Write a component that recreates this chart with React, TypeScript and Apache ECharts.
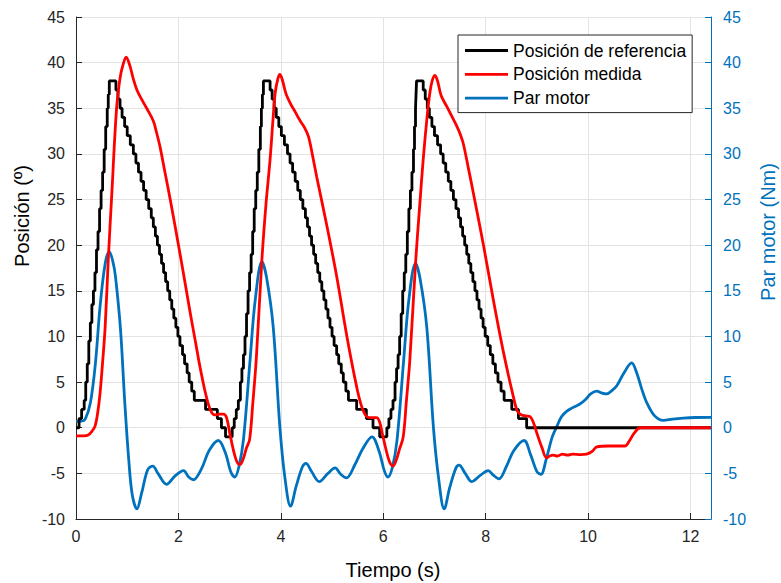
import React, { useEffect, useRef } from "react";
import * as echarts from "echarts";

// ---- Data (time in s, value) ----
const refCycle1: [number, number][] = [
  [0, 0], [0.06, 1], [0.11, 2], [0.16, 3], [0.19, 5], [0.22, 7], [0.25, 9.5], [0.28, 11.5], [0.31, 13.5],
  [0.34, 15], [0.37, 17], [0.4, 19.5], [0.43, 21.5], [0.46, 24], [0.49, 26], [0.52, 28], [0.55, 30.5],
  [0.58, 33], [0.61, 35], [0.63, 36.5], [0.65, 38],
  [0.78, 37], [0.82, 36], [0.86, 35], [0.9, 34], [0.95, 33], [1.0, 32], [1.06, 31], [1.12, 30], [1.17, 29],
  [1.22, 28], [1.27, 27], [1.32, 26], [1.37, 25], [1.42, 24], [1.47, 23], [1.51, 22], [1.55, 21], [1.59, 20],
  [1.63, 19], [1.67, 18], [1.71, 17], [1.75, 16], [1.79, 15], [1.83, 14], [1.87, 13], [1.91, 12], [1.95, 11],
  [1.99, 10], [2.03, 9], [2.08, 8], [2.12, 7], [2.17, 6], [2.21, 5], [2.26, 4], [2.31, 3], [2.53, 2],
  [2.76, 1], [2.84, 0], [2.92, -1],
];
const refCycle2: [number, number][] = [
  [3.05, 0], [3.09, 1], [3.13, 2], [3.17, 3], [3.21, 5], [3.24, 6.5], [3.27, 8], [3.3, 10], [3.33, 12.5],
  [3.36, 15], [3.39, 17], [3.42, 19], [3.45, 21.5], [3.48, 24], [3.51, 26], [3.54, 28], [3.57, 30.5],
  [3.6, 33], [3.62, 35], [3.64, 36.5], [3.66, 38],
  [3.79, 37], [3.83, 36], [3.87, 35], [3.91, 34], [3.96, 33], [4.01, 32], [4.07, 31], [4.13, 30], [4.18, 29],
  [4.23, 28], [4.28, 27], [4.33, 26], [4.38, 25], [4.43, 24], [4.48, 23], [4.52, 22], [4.56, 21], [4.6, 20],
  [4.64, 19], [4.68, 18], [4.72, 17], [4.76, 16], [4.8, 15], [4.84, 14], [4.88, 13], [4.92, 12], [4.96, 11],
  [5.0, 10], [5.04, 9], [5.09, 8], [5.13, 7], [5.18, 6], [5.22, 5], [5.27, 4], [5.32, 3], [5.48, 2],
  [5.67, 1], [5.8, 0], [5.93, -1],
];
const refCycle3: [number, number][] = [
  [6.07, 0], [6.11, 1], [6.15, 2], [6.19, 3], [6.23, 5], [6.26, 6.5], [6.29, 8], [6.32, 10], [6.35, 12.5],
  [6.38, 15], [6.41, 17], [6.44, 19], [6.47, 21.5], [6.5, 24], [6.53, 26], [6.56, 28], [6.59, 30.5],
  [6.61, 33], [6.63, 35], [6.64, 36.5], [6.65, 38],
  [6.78, 37], [6.82, 36], [6.86, 35], [6.9, 34], [6.95, 33], [7.0, 32], [7.06, 31], [7.12, 30], [7.17, 29],
  [7.22, 28], [7.27, 27], [7.32, 26], [7.37, 25], [7.42, 24], [7.47, 23], [7.51, 22], [7.55, 21], [7.59, 20],
  [7.63, 19], [7.67, 18], [7.71, 17], [7.75, 16], [7.79, 15], [7.83, 14], [7.87, 13], [7.91, 12], [7.95, 11],
  [7.99, 10], [8.04, 9], [8.09, 8], [8.14, 7], [8.19, 6], [8.24, 5], [8.3, 4], [8.36, 3], [8.51, 2],
  [8.64, 1], [8.8, 0], [12.4, 0],
];

const measCycle1: [number, number][] = [
  [0, -0.9], [0.15, -0.9], [0.24, -0.8], [0.31, -0.4], [0.37, 0.15], [0.42, 1.5], [0.47, 3.8], [0.52, 7.2],
  [0.57, 11.1], [0.63, 18.4], [0.7, 25.7], [0.79, 34.8], [0.86, 38.3], [0.92, 39.8], [0.98, 40.6],
  [1.05, 39.7], [1.12, 38.2], [1.19, 37.0], [1.28, 36.0], [1.38, 35.0], [1.51, 33.6], [1.57, 32.4],
  [1.64, 30.8], [1.74, 27.9], [1.84, 25.0], [2.03, 19.1], [2.23, 12.6], [2.33, 9.5], [2.42, 6.7],
  [2.52, 4.0], [2.62, 2.0], [2.71, 1.4], [2.8, 1.5], [2.88, 1.5], [2.94, 1.1], [3.01, -0.8], [3.08, -2.6],
  [3.14, -3.7], [3.2, -4.05], [3.26, -3.5], [3.33, -2.2],
];
const measCycle2: [number, number][] = [
  [3.39, -1.3], [3.45, 2.5], [3.52, 7.5], [3.63, 18.4], [3.71, 24.5], [3.79, 29.4], [3.85, 34.0],
  [3.89, 36.7], [3.94, 38.2], [3.98, 38.7], [4.03, 38.1], [4.1, 36.6], [4.18, 35.6], [4.28, 34.6],
  [4.38, 33.6], [4.46, 32.9], [4.54, 31.9], [4.62, 29.8], [4.7, 27.5], [4.9, 22.1], [5.09, 16.6],
  [5.29, 10.0], [5.48, 4.5], [5.58, 2.3], [5.68, 1.2], [5.78, 1.1], [5.87, 1.1], [5.93, 0.6], [5.98, -0.6],
  [6.05, -2.3], [6.12, -3.7], [6.19, -4.2], [6.25, -3.6], [6.32, -2.3],
];
const measCycle3: [number, number][] = [
  [6.39, -1.0], [6.45, 2.8], [6.52, 7.5], [6.63, 18.0], [6.71, 24.2], [6.78, 29.4], [6.86, 34.3],
  [6.91, 36.7], [6.96, 38.1], [7.01, 38.6], [7.06, 38.0], [7.13, 36.4], [7.24, 35.2], [7.34, 34.1],
  [7.44, 33.0], [7.5, 32.2], [7.56, 31.2], [7.66, 28.5], [7.76, 25.7], [7.96, 19.9], [8.15, 14.0],
  [8.35, 8.2], [8.54, 3.4], [8.62, 1.8], [8.7, 1.4], [8.78, 1.3], [8.87, 1.2], [8.93, 0.6], [9.0, -0.6],
  [9.1, -2.2], [9.19, -3.3], [9.25, -3.1], [9.32, -3.0], [9.4, -3.1], [9.5, -2.9], [9.6, -3.0],
  [9.7, -2.9], [9.85, -2.95], [9.97, -2.9], [10.08, -2.6], [10.17, -2.1], [10.4, -2.0], [10.72, -2.0],
  [10.8, -1.5], [10.9, -0.6], [11.02, 0], [12.4, 0],
];

const torqueCycle1: [number, number][] = [
  [0, 0.7], [0.1, 0.72], [0.18, 0.95], [0.28, 2.7], [0.38, 7.1], [0.47, 13.3], [0.57, 18.0], [0.65, 19.3],
  [0.72, 18.2], [0.77, 16.6], [0.87, 10.7], [0.95, 3.0], [1.03, -3.5], [1.1, -7.4], [1.19, -8.9],
  [1.28, -7.2], [1.4, -4.6], [1.5, -4.2], [1.6, -5.0], [1.77, -6.2], [1.93, -5.3], [2.1, -4.7],
  [2.2, -5.4], [2.29, -5.7], [2.45, -4.5], [2.6, -2.5], [2.78, -1.4], [2.92, -2.8], [3.02, -4.8],
  [3.1, -5.4], [3.18, -4.3],
];
const torqueCycle2: [number, number][] = [
  [3.27, -1.3], [3.4, 7.5], [3.5, 14.0], [3.63, 18.2], [3.72, 16.5], [3.85, 11.1], [3.98, 0.15],
  [4.08, -5.5], [4.19, -8.6], [4.3, -6.4], [4.42, -4.3], [4.49, -3.9], [4.6, -4.8], [4.75, -5.9],
  [4.92, -5.0], [5.06, -4.4], [5.17, -5.1], [5.28, -5.5], [5.45, -4.0], [5.6, -2.3], [5.78, -1.0],
  [5.92, -2.6], [6.02, -4.7], [6.09, -5.4], [6.18, -4.3],
];
const torqueCycle3: [number, number][] = [
  [6.27, -1.3], [6.4, 7.5], [6.5, 14.0], [6.63, 18.0], [6.72, 16.3], [6.85, 11.0], [6.98, 0],
  [7.08, -5.5], [7.19, -8.9], [7.3, -6.5], [7.42, -4.4], [7.48, -4.1], [7.6, -5.0], [7.73, -5.9],
  [7.9, -5.2], [8.05, -4.7], [8.15, -5.2], [8.26, -5.6], [8.4, -4.3], [8.55, -2.5], [8.75, -1.4],
  [8.88, -3.0], [9.0, -4.8], [9.08, -5.1], [9.18, -3.5], [9.3, -1.0], [9.39, 0.15], [9.48, 1.2],
  [9.58, 1.8], [9.7, 2.2], [9.84, 2.6], [9.95, 3.1], [10.05, 3.7], [10.17, 4.0], [10.27, 3.8],
  [10.36, 3.7], [10.47, 4.1], [10.56, 4.6], [10.7, 6.0], [10.85, 7.1], [10.95, 6.0], [11.05, 4.2],
  [11.15, 2.7], [11.3, 1.3], [11.47, 0.8], [11.65, 0.95], [11.86, 1.06], [12.1, 1.12], [12.4, 1.13],
];

const seriesNames = ["Posición de referencia", "Posición medida", "Par motor"];
const xTitle = "Tiempo (s)";
const yLeftTitle = "Posición (º)";
const yRightTitle = "Par motor (Nm)";

const FONT = "'Liberation Sans', Arial, Helvetica, sans-serif";
const AX = "#262626";
const BLUE = "#0072BD";
const GRID = "#e3e3e3";
const LW = 2.8;

export default function App() {
  const ref = useRef<HTMLDivElement>(null);
  useEffect(() => {
    if (!ref.current) return;
    const chart = echarts.init(ref.current, undefined, { renderer: "svg" });
    const refPos = [...refCycle1, ...refCycle2, ...refCycle3];
    const measPos = [...measCycle1, ...measCycle2, ...measCycle3];
    const torque = [...torqueCycle1, ...torqueCycle2, ...torqueCycle3];
    chart.setOption({
      animation: false,
      backgroundColor: "#ffffff",
      textStyle: { fontFamily: FONT },
      grid: { left: 76, right: 70, top: 17, bottom: 64, containLabel: false },
      legend: {
        data: seriesNames,
        orient: "vertical",
        left: 458,
        top: 35,
        icon: "rect",
        itemWidth: 43,
        itemHeight: 2.8,
        itemGap: 2.8,
        padding: [5, 6, 4, 7],
        backgroundColor: "#ffffff",
        borderColor: AX,
        borderWidth: 1,
        borderRadius: 0,
        textStyle: { fontSize: 17.5, color: "#000", fontFamily: FONT, lineHeight: 21, padding: [0, 0, 0, 0] },
      },
      xAxis: {
        type: "value",
        min: 0,
        max: 12.4,
        interval: 2,
        axisLine: { show: true, onZero: false, lineStyle: { color: AX, width: 1 } },
        axisTick: { show: true, inside: true, length: 6, lineStyle: { color: AX } },
        axisLabel: { color: AX, fontSize: 16, margin: 9, showMaxLabel: false, fontFamily: FONT },
        splitLine: { show: true, lineStyle: { color: GRID, width: 1 } },
      },
      yAxis: [
        {
          type: "value",
          min: -10,
          max: 45,
          interval: 5,
          position: "left",
          axisLine: { show: true, onZero: false, lineStyle: { color: AX, width: 1 } },
          axisTick: { show: true, inside: true, length: 6, lineStyle: { color: AX } },
          axisLabel: { color: AX, fontSize: 16, margin: 11, fontFamily: FONT },
          splitLine: { show: true, lineStyle: { color: GRID, width: 1 } },
        },
        {
          type: "value",
          min: -10,
          max: 45,
          interval: 5,
          position: "right",
          axisLine: { show: true, onZero: false, lineStyle: { color: BLUE, width: 1 } },
          axisTick: { show: true, inside: true, length: 6, lineStyle: { color: BLUE } },
          axisLabel: { color: BLUE, fontSize: 16, margin: 12, fontFamily: FONT },
          splitLine: { show: false },
        },
      ],
      series: [
        {
          name: seriesNames[2],
          type: "line",
          yAxisIndex: 1,
          data: torque,
          showSymbol: false,
          smooth: 0.35,
          lineStyle: { color: BLUE, width: LW },
          itemStyle: { color: BLUE },
          z: 2,
        },
        {
          name: seriesNames[0],
          type: "line",
          yAxisIndex: 0,
          data: refPos,
          step: "end",
          showSymbol: false,
          lineStyle: { color: "#000000", width: LW },
          itemStyle: { color: "#000000" },
          z: 3,
        },
        {
          name: seriesNames[1],
          type: "line",
          yAxisIndex: 0,
          data: measPos,
          showSymbol: false,
          smooth: 0.35,
          lineStyle: { color: "#ff0000", width: LW },
          itemStyle: { color: "#ff0000" },
          z: 4,
        },
      ],
      graphic: [
        {
          type: "text",
          x: 22,
          y: 216,
          rotation: Math.PI / 2,
          style: { text: yLeftTitle, fill: "#000", font: `20px ${FONT}`, textAlign: "center", textVerticalAlign: "middle" },
        },
        {
          type: "text",
          x: 768,
          y: 232,
          rotation: Math.PI / 2,
          style: { text: yRightTitle, fill: BLUE, font: `20px ${FONT}`, textAlign: "center", textVerticalAlign: "middle" },
        },
        {
          type: "text",
          x: 393,
          y: 570,
          style: { text: xTitle, fill: "#000", font: `20px ${FONT}`, textAlign: "center", textVerticalAlign: "middle" },
        },
      ],
    });
    return () => chart.dispose();
  }, []);
  return <div ref={ref} style={{ position: "fixed", left: 0, top: 0, width: 781, height: 583 }} />;
}
